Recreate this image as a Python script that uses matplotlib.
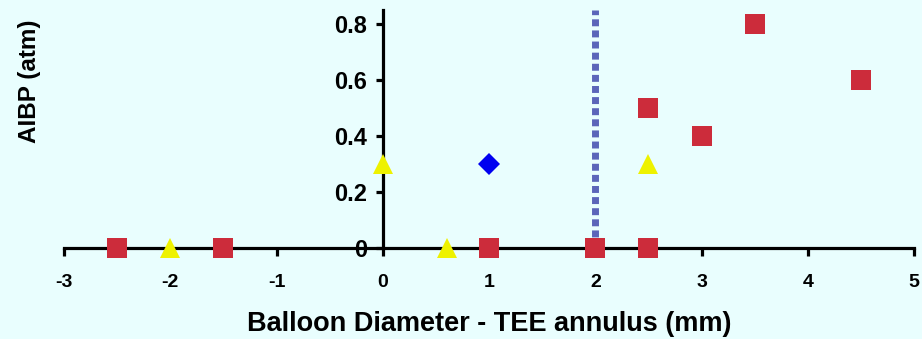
import matplotlib
matplotlib.use("Agg")
import matplotlib.pyplot as plt

plt.rcParams["font.family"] = ["Liberation Sans", "DejaVu Sans"]

# --- data
red_x = [-2.5, -1.5, 1, 2, 2.5, 2.5, 3, 3.5, 4.5]
red_y = [0, 0, 0, 0, 0, 0.5, 0.4, 0.8, 0.6]
yellow_x = [-2, 0, 0.6, 2.5]
yellow_y = [0, 0.3, 0, 0.3]
blue_x = [1]
blue_y = [0.3]
cutoff_x = 2
x_ticks = [-3, -2, -1, 0, 1, 2, 3, 4, 5]
y_ticks = [0, 0.2, 0.4, 0.6, 0.8]

bg = "#E9FEFE"
fig = plt.figure(figsize=(9.22, 3.39), dpi=100, facecolor=bg)
ax = fig.add_axes([64 / 922, 1 - 248 / 339, 850 / 922, 238 / 339])
ax.set_facecolor(bg)

ax.plot([cutoff_x, cutoff_x], [0, 0.85], color="#5B65BA", linewidth=5,
        dashes=(1.0, 0.6), solid_capstyle="butt", dash_capstyle="butt", zorder=2)

ax.plot(yellow_x, yellow_y, "^", color="#EEF200", markersize=15,
        markeredgewidth=0, clip_on=False, zorder=4)
ax.plot(red_x, red_y, "s", color="#CC2C3B", markersize=14,
        markeredgewidth=0, clip_on=False, zorder=5)
ax.plot(blue_x, blue_y, "D", color="#0000F0", markersize=11.5,
        markeredgewidth=0, clip_on=False, zorder=5)

ax.set_xlim(-3, 5)
ax.set_ylim(0, 0.85)
for side in ["top", "right"]:
    ax.spines[side].set_visible(False)
ax.spines["left"].set_position(("data", 0))
for side in ["left", "bottom"]:
    ax.spines[side].set_linewidth(2.3)
    ax.spines[side].set_zorder(3)

ax.set_xticks(x_ticks)
ax.set_xticklabels([str(v) for v in x_ticks])
ax.set_yticks(y_ticks)
ax.set_yticklabels(["0", "0.2", "0.4", "0.6", "0.8"])
ax.tick_params(axis="x", direction="out", length=6, width=2.3, pad=13,
               labelsize=14)
ax.tick_params(axis="y", direction="out", length=5, width=2.3, pad=6,
               labelsize=17)
for lab in ax.get_xticklabels() + ax.get_yticklabels():
    lab.set_fontweight("bold")

ax.set_xlabel("Balloon Diameter - TEE annulus (mm)", fontsize=19.5,
              fontweight="bold", labelpad=14)
ax.set_ylabel("AIBP (atm)", fontsize=17.5, fontweight="bold")
ax.yaxis.set_label_coords(-0.027, 0.70)

fig.savefig("out.png", dpi=100, facecolor=bg)
